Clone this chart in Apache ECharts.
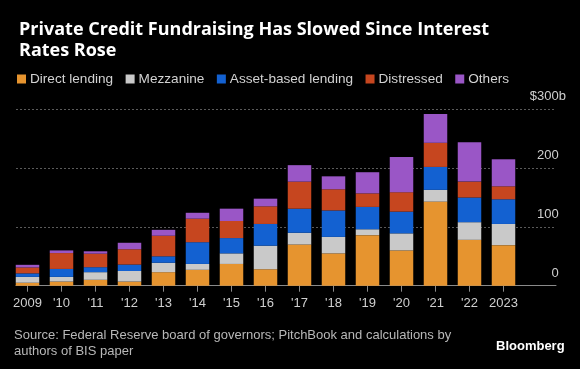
<!DOCTYPE html>
<html>
<head>
<meta charset="utf-8">
<script src="https://cdn.jsdelivr.net/npm/echarts@6/dist/echarts.min.js"></script>
<style>
html,body{margin:0;padding:0;background:#000;}
#c{width:580px;height:369px;}
</style>
</head>
<body>
<div id="c"></div>
<script>
const years = ['2009', "'10", "'11", "'12", "'13", "'14", "'15", "'16", "'17", "'18", "'19", "'20", "'21", "'22", '2023'];
const directLending = [5, 7, 10, 7, 23, 27, 37, 28, 70, 55, 86, 60, 143, 78, 69];
const mezzanine = [10, 8, 13, 18, 16, 10, 18, 40, 20, 28, 10, 29, 20, 30, 36];
const assetBased = [6, 13.5, 8.5, 11, 11, 37, 26, 37, 41, 45, 38, 37, 39, 42, 42];
const distressed = [10, 27, 23, 26, 35, 40, 29, 30, 46, 36, 23, 33, 41, 27, 22];
const others = [4.5, 4.5, 4, 11, 10, 10, 21, 13, 28, 22, 36, 60, 49, 67, 46];
const yTicks = [0, 100, 200, 300];

const seriesDefs = [
  ['Direct lending', directLending, '#e6942f'],
  ['Mezzanine', mezzanine, '#c9c9c9'],
  ['Asset-based lending', assetBased, '#1361d1'],
  ['Distressed', distressed, '#c6461f'],
  ['Others', others, '#9a56c6']
];

const FONT = '"Liberation Sans", Arial, sans-serif';
const chart = echarts.init(document.getElementById('c'), null, {renderer: 'canvas'});
const gTop = 109.3, gBottom = 369 - 285.7;

chart.setOption({
  backgroundColor: '#000',
  animation: false,
  title: {
    text: 'Private Credit Fundraising Has Slowed Since Interest\nRates Rose',
    left: 14, top: 15,
    textStyle: {color: '#ffffff', fontSize: 18, fontWeight: 'bold', fontFamily: '"Open Sans", sans-serif', lineHeight: 20.5}
  },
  legend: {
    left: 12, top: 67,
    icon: 'rect', itemWidth: 9, itemHeight: 9, itemGap: 12.5,
    textStyle: {color: '#d2d2d2', fontSize: 13.6, fontFamily: FONT, padding: [0, 0, 0, -1]},
    data: seriesDefs.map(d => d[0])
  },
  grid: [
    {left: 16, right: 24, top: gTop, bottom: gBottom},
    {left: 10.5, right: 59.5, top: gTop, bottom: gBottom}
  ],
  xAxis: [
    {type: 'value', gridIndex: 0, min: 0, max: 1, show: true,
     axisLine: {show: true, lineStyle: {color: '#8a8a8a', width: 1}},
     axisTick: {show: false}, axisLabel: {show: false}, splitLine: {show: false}},
    {type: 'category', gridIndex: 1, data: years,
     axisLine: {show: false},
     axisTick: {show: true, interval: 0, alignWithLabel: true, length: 6, lineStyle: {color: '#8a8a8a'}},
     axisLabel: {interval: 0, color: '#cfcfcf', fontSize: 13, fontFamily: FONT, margin: 11}}
  ],
  yAxis: [
    {type: 'value', gridIndex: 0, position: 'right', min: 0, max: 300, interval: 100,
     axisLine: {show: false}, axisTick: {show: false},
     splitLine: {show: true, lineStyle: {color: '#5a5a5a', type: [2, 2], width: 1}},
     axisLabel: {
       color: '#cfcfcf', fontSize: 13, fontFamily: FONT, align: 'right', margin: 10,
       verticalAlign: 'bottom', padding: [0, 0, 6, 0],
       formatter: v => v === 300 ? '$300b' : v + '{h|b}',
       rich: {h: {color: 'rgba(0,0,0,0)', fontSize: 13, fontFamily: FONT}}
     }},
    {type: 'value', gridIndex: 1, min: 0, max: 300, interval: 100, show: false}
  ],
  series: seriesDefs.map(d => ({
    name: d[0], type: 'bar', stack: 'total', xAxisIndex: 1, yAxisIndex: 1,
    data: d[1], barWidth: 23.5, itemStyle: {color: d[2]}
  })),
  graphic: [
    {type: 'text', left: 14, top: 327,
     style: {text: 'Source: Federal Reserve board of governors; PitchBook and calculations by\nauthors of BIS paper',
             fill: '#b8b8b8', font: '13px ' + FONT, lineHeight: 16}},
    {type: 'text', left: 496, top: 340,
     style: {text: 'Bloomberg', fill: '#ffffff', font: 'bold 13px ' + FONT}}
  ]
});
</script>
</body>
</html>
